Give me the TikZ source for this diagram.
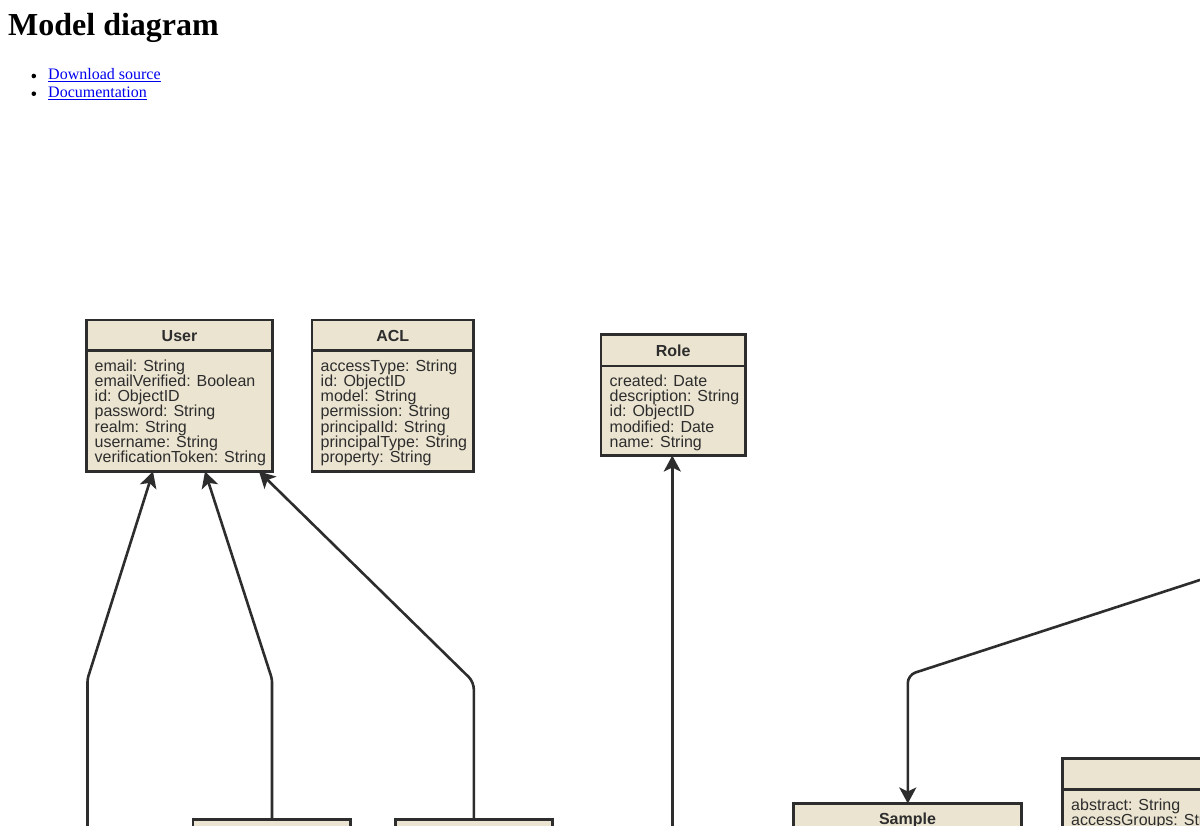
\documentclass[tikz,border=0pt]{standalone}
\usepackage{fontspec}
\setmainfont{Liberation Serif}
\newfontfamily\boxfont{Liberation Sans}
\usetikzlibrary{arrows.meta}
\definecolor{ink}{RGB}{45,45,45}
\definecolor{paper}{RGB}{235,228,209}
\definecolor{linkblue}{RGB}{0,0,238}
\tikzset{
  classbox/.style={rectangle, draw=ink, fill=paper, line width=2.8pt,
    outer sep=0pt, inner sep=0pt, anchor=north west},
  divider/.style={draw=ink, line width=2.8pt},
  classtitle/.style={font=\boxfont\bfseries\fontsize{16}{15}\selectfont,
    text=ink, inner sep=0pt, anchor=base},
  attr/.style={font=\boxfont\fontsize{16}{15}\selectfont,
    text=ink, inner sep=0pt, anchor=base west},
  wire/.style={draw=ink, line width=2.6pt, line join=round},
  conn/.style={wire, arrows={-Stealth[length=16pt,width=17pt,inset=4pt]}},
  link/.style={font=\fontsize{16}{18}\selectfont, text=linkblue,
    inner sep=0pt, anchor=base west},
  underl/.style={draw=linkblue, line width=1pt},
}
\begin{document}
\begin{tikzpicture}[x=1pt,y=-1pt]
\useasboundingbox (0,0) rectangle (1200,826);
\clip (0,0) rectangle (1200,826);
\fill[white] (0,0) rectangle (1200,826);

% page heading and links
\node[anchor=base west, inner sep=0pt, font=\bfseries\fontsize{32}{36}\selectfont]
  (heading) at (8,36) {Model diagram};
\fill (33.8,76) circle (2.3);
\fill (33.8,93.7) circle (2.3);
\node[link] (dl) at (48,80) {Download source};
\node[link] (doc) at (48,97.7) {Documentation};
\draw[underl] ([yshift=-2pt]dl.base west) -- ([yshift=-2pt]dl.base east);
\draw[underl] ([yshift=-2pt]doc.base west) -- ([yshift=-2pt]doc.base east);

% User
\node[classbox, minimum width=186pt, minimum height=151.5pt] (user) at (86.5,320) {};
\draw[divider] (user.west |- 0,350.5) -- (user.east |- 0,350.5);
\node[classtitle] (user-t) at (user.center |- 0,341.7) {User};
\foreach \t [count=\i from 0] in {email: String, emailVerified: Boolean, id: ObjectID,
  password: String, realm: String, username: String, verificationToken: String}
  \node[attr] (user-a\i) at (94.5,{372+15*\i}) {\t};

% ACL
\node[classbox, minimum width=161.5pt, minimum height=151.5pt] (acl) at (312,320) {};
\draw[divider] (acl.west |- 0,350.5) -- (acl.east |- 0,350.5);
\node[classtitle] (acl-t) at (acl.center |- 0,341.7) {ACL};
\foreach \t [count=\i from 0] in {accessType: String, id: ObjectID, model: String,
  permission: String, principalId: String, principalType: String, property: String}
  \node[attr] (acl-a\i) at (320.5,{372+15*\i}) {\t};

% Role
\node[classbox, minimum width=144.5pt, minimum height=121pt] (role) at (601,334.5) {};
\draw[divider] (role.west |- 0,366) -- (role.east |- 0,366);
\node[classtitle] (role-t) at (role.center |- 0,356.5) {Role};
\foreach \t [count=\i from 0] in {created: Date, description: String, id: ObjectID,
  modified: Date, name: String}
  \node[attr] (role-a\i) at (609.5,{387+15*\i}) {\t};

% Sample
\node[classbox, minimum width=228pt, minimum height=200pt] (sample) at (793.5,803.5) {};
\node[classtitle] (sample-t) at (sample.center |- 0,824.5) {Sample};

% class on the right edge
\node[classbox, minimum width=300pt, minimum height=200pt] (pub) at (1062.5,758.5) {};
\draw[divider] (pub.west |- 0,789.5) -- (pub.east |- 0,789.5);
\foreach \t [count=\i from 0] in {abstract: String, accessGroups: String}
  \node[attr] (pub-a\i) at (1071,{810+15*\i}) {\t};

% classes along the bottom edge
\node[classbox, minimum width=157.5pt, minimum height=100pt] (low1) at (193,819.5) {};
\node[classbox, minimum width=157pt, minimum height=100pt] (low2) at (395.5,819.5) {};

% relations
\coordinate (srcA) at (87.5,840);
\coordinate (srcR) at (672.3,840);
\coordinate (srcS) at (1230,570.2);

\draw[conn, rounded corners=3pt] (srcA) -- (87.5,679) -- (153,0 |- user.south);
\draw[conn, rounded corners=3pt] (272,0 |- low1.north) -- (272,679) -- (205,0 |- user.south);
\draw[conn, rounded corners=7pt] (473.8,0 |- low2.north) -- (473.8,682) -- (259,0 |- user.south);
\draw[conn] (srcR) -- (672.3,0 |- role.south);
\draw[conn, rounded corners=8pt] (srcS) -- (907.8,675) -- (907.8,0 |- sample.north);
\end{tikzpicture}
\end{document}
